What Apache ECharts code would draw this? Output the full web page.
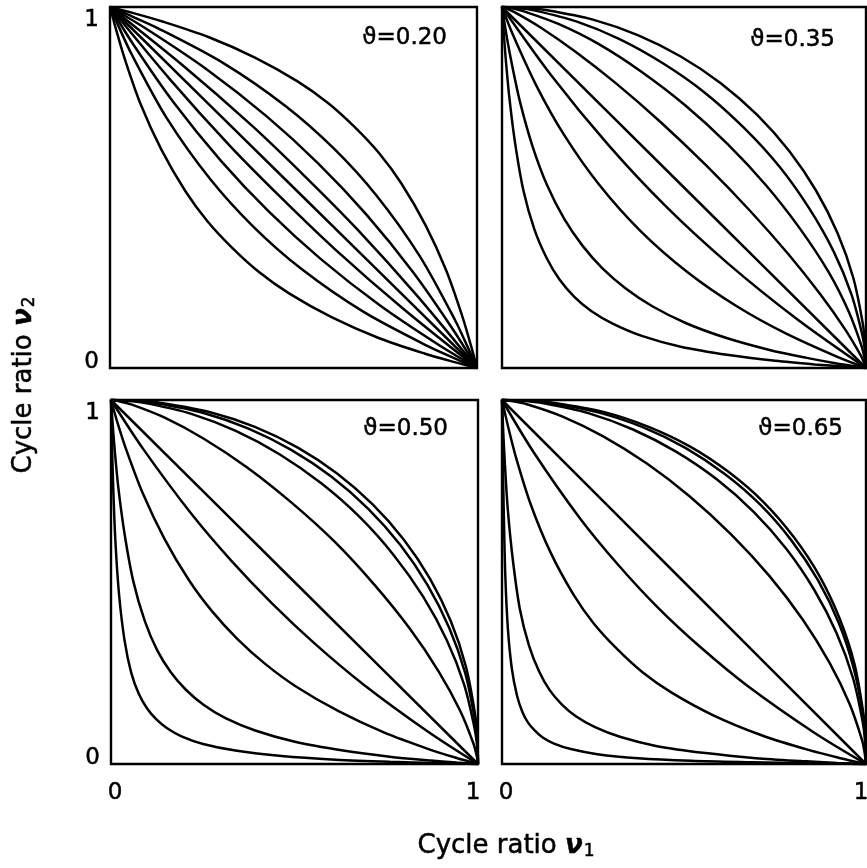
<!DOCTYPE html>
<html>
<head>
<meta charset="utf-8">
<script src="https://cdn.jsdelivr.net/npm/echarts@6/dist/echarts.min.js"></script>
<style>
html,body{margin:0;padding:0;background:#fff;}
#c{width:867px;height:868px;}
</style>
</head>
<body>
<div id="c"></div>
<script>
var panelLabels = ['ϑ=0.20', 'ϑ=0.35', 'ϑ=0.50', 'ϑ=0.65'];
var tickValues = [0, 1];
var xTitle = 'Cycle ratio ';
var yTitle = 'Cycle ratio ';

// each curve: [nu1, nu2] points
var curves020 = [
  [[0,1],[0.017,0.936],[0.040,0.857],[0.083,0.732],[0.140,0.605],[0.206,0.489],[0.266,0.406],[0.333,0.333],[0.406,0.266],[0.489,0.206],[0.605,0.140],[0.732,0.083],[0.857,0.040],[0.936,0.017],[1,0]],
  [[0,1],[0.020,0.954],[0.059,0.869],[0.156,0.690],[0.274,0.522],[0.391,0.391],[0.522,0.274],[0.690,0.156],[0.869,0.059],[0.954,0.020],[1,0]],
  [[0,1],[0.065,0.894],[0.173,0.736],[0.303,0.573],[0.433,0.433],[0.573,0.303],[0.736,0.173],[0.894,0.065],[1,0]],
  [[0,1],[0.164,0.799],[0.328,0.614],[0.469,0.469],[0.614,0.328],[0.799,0.164],[1,0]],
  [[0,1],[0.5,0.5],[1,0]],
  [[0,1],[0.201,0.836],[0.386,0.672],[0.531,0.531],[0.672,0.386],[0.836,0.201],[1,0]],
  [[0,1],[0.106,0.935],[0.264,0.827],[0.427,0.697],[0.567,0.567],[0.697,0.427],[0.827,0.264],[0.935,0.106],[1,0]],
  [[0,1],[0.046,0.980],[0.131,0.941],[0.310,0.844],[0.478,0.726],[0.609,0.609],[0.726,0.478],[0.844,0.310],[0.941,0.131],[0.980,0.046],[1,0]],
  [[0,1],[0.064,0.983],[0.143,0.960],[0.268,0.917],[0.395,0.860],[0.511,0.794],[0.594,0.734],[0.667,0.667],[0.734,0.594],[0.794,0.511],[0.860,0.395],[0.917,0.268],[0.960,0.143],[0.983,0.064],[1,0]]
];
var curves035 = [
  [[0,1],[0.004,0.939],[0.010,0.859],[0.020,0.751],[0.036,0.623],[0.059,0.491],[0.089,0.384],[0.123,0.304],[0.158,0.245],[0.198,0.198],[0.245,0.158],[0.304,0.123],[0.384,0.089],[0.491,0.059],[0.623,0.036],[0.751,0.020],[0.859,0.010],[0.939,0.004],[1,0]],
  [[0,1],[0.014,0.912],[0.028,0.837],[0.050,0.735],[0.083,0.617],[0.124,0.506],[0.171,0.413],[0.221,0.339],[0.276,0.276],[0.339,0.221],[0.413,0.171],[0.506,0.124],[0.617,0.083],[0.735,0.050],[0.837,0.028],[0.912,0.014],[1,0]],
  [[0,1],[0.030,0.923],[0.095,0.781],[0.171,0.645],[0.266,0.509],[0.380,0.380],[0.509,0.266],[0.645,0.171],[0.781,0.095],[0.923,0.030],[1,0]],
  [[0,1],[0.135,0.811],[0.292,0.618],[0.449,0.449],[0.618,0.292],[0.811,0.135],[1,0]],
  [[0,1],[0.5,0.5],[1,0]],
  [[0,1],[0.011,0.996],[0.034,0.986],[0.105,0.944],[0.202,0.876],[0.315,0.787],[0.437,0.680],[0.561,0.561],[0.680,0.437],[0.787,0.315],[0.876,0.202],[0.944,0.105],[0.986,0.034],[0.996,0.011],[1,0]],
  [[0,1],[0.023,0.997],[0.060,0.988],[0.155,0.953],[0.266,0.897],[0.384,0.820],[0.504,0.727],[0.620,0.620],[0.727,0.504],[0.820,0.384],[0.897,0.266],[0.953,0.155],[0.988,0.060],[0.997,0.023],[1,0]],
  [[0,1],[0.040,0.998],[0.091,0.990],[0.204,0.960],[0.323,0.911],[0.442,0.844],[0.558,0.762],[0.665,0.665],[0.762,0.558],[0.844,0.442],[0.911,0.323],[0.960,0.204],[0.990,0.091],[0.998,0.040],[1,0]],
  [[0,1],[0.061,0.998],[0.124,0.991],[0.250,0.965],[0.373,0.922],[0.491,0.863],[0.601,0.789],[0.701,0.701],[0.789,0.601],[0.863,0.491],[0.922,0.373],[0.965,0.250],[0.991,0.124],[0.998,0.061],[1,0]]
];
var curves050 = [
  [[0,1],[0.0025,0.888],[0.006,0.760],[0.012,0.612],[0.022,0.465],[0.037,0.339],[0.055,0.251],[0.076,0.192],[0.098,0.153],[0.123,0.123],[0.153,0.098],[0.192,0.076],[0.251,0.055],[0.339,0.037],[0.465,0.022],[0.612,0.012],[0.760,0.006],[0.888,0.0025],[1,0]],
  [[0,1],[0.004,0.941],[0.010,0.864],[0.020,0.759],[0.037,0.632],[0.061,0.501],[0.092,0.393],[0.126,0.312],[0.163,0.252],[0.204,0.204],[0.252,0.163],[0.312,0.126],[0.393,0.092],[0.501,0.061],[0.632,0.037],[0.759,0.020],[0.864,0.010],[0.941,0.004],[1,0]],
  [[0,1],[0.017,0.940],[0.041,0.865],[0.086,0.745],[0.145,0.620],[0.213,0.504],[0.275,0.420],[0.344,0.344],[0.420,0.275],[0.504,0.213],[0.620,0.145],[0.745,0.086],[0.865,0.041],[0.940,0.017],[1,0]],
  [[0,1],[0.088,0.865],[0.220,0.686],[0.330,0.556],[0.440,0.440],[0.556,0.330],[0.686,0.220],[0.865,0.088],[1,0]],
  [[0,1],[0.5,0.5],[1,0]],
  [[0,1],[0.020,0.997],[0.055,0.988],[0.145,0.952],[0.254,0.893],[0.372,0.814],[0.492,0.718],[0.610,0.610],[0.718,0.492],[0.814,0.372],[0.893,0.254],[0.952,0.145],[0.988,0.055],[0.997,0.020],[1,0]],
  [[0,1],[0.047,0.998],[0.102,0.990],[0.219,0.962],[0.340,0.915],[0.459,0.851],[0.573,0.771],[0.678,0.678],[0.771,0.573],[0.851,0.459],[0.915,0.340],[0.962,0.219],[0.990,0.102],[0.998,0.047],[1,0]],
  [[0,1],[0.061,0.998],[0.124,0.991],[0.250,0.965],[0.373,0.922],[0.491,0.863],[0.601,0.789],[0.701,0.701],[0.789,0.601],[0.863,0.491],[0.922,0.373],[0.965,0.250],[0.991,0.124],[0.998,0.061],[1,0]],
  [[0,1],[0.070,0.998],[0.137,0.992],[0.268,0.967],[0.392,0.926],[0.509,0.869],[0.616,0.798],[0.713,0.713],[0.798,0.616],[0.869,0.509],[0.926,0.392],[0.967,0.268],[0.992,0.137],[0.998,0.070],[1,0]]
];
var curves065 = [
  [[0,1],[0.0005,0.957],[0.002,0.845],[0.005,0.685],[0.009,0.520],[0.016,0.374],[0.027,0.262],[0.041,0.189],[0.056,0.143],[0.072,0.113],[0.091,0.091],[0.113,0.072],[0.143,0.056],[0.189,0.041],[0.262,0.027],[0.374,0.016],[0.520,0.009],[0.685,0.005],[0.845,0.002],[0.957,0.0005],[1,0]],
  [[0,1],[0.003,0.921],[0.008,0.823],[0.016,0.698],[0.030,0.559],[0.049,0.426],[0.074,0.326],[0.102,0.254],[0.131,0.203],[0.164,0.164],[0.203,0.131],[0.254,0.102],[0.326,0.074],[0.426,0.049],[0.559,0.030],[0.698,0.016],[0.823,0.008],[0.921,0.003],[1,0]],
  [[0,1],[0.016,0.930],[0.038,0.844],[0.079,0.713],[0.133,0.582],[0.196,0.466],[0.252,0.386],[0.316,0.316],[0.386,0.252],[0.466,0.196],[0.582,0.133],[0.713,0.079],[0.844,0.038],[0.930,0.016],[1,0]],
  [[0,1],[0.086,0.858],[0.215,0.674],[0.322,0.544],[0.429,0.429],[0.544,0.322],[0.674,0.215],[0.858,0.086],[1,0]],
  [[0,1],[0.5,0.5],[1,0]],
  [[0,1],[0.026,0.997],[0.066,0.989],[0.165,0.955],[0.278,0.900],[0.397,0.826],[0.516,0.735],[0.630,0.630],[0.735,0.516],[0.826,0.397],[0.900,0.278],[0.955,0.165],[0.989,0.066],[0.997,0.026],[1,0]],
  [[0,1],[0.055,0.998],[0.115,0.991],[0.237,0.964],[0.360,0.919],[0.478,0.858],[0.590,0.782],[0.692,0.692],[0.782,0.590],[0.858,0.478],[0.919,0.360],[0.964,0.237],[0.991,0.115],[0.998,0.055],[1,0]],
  [[0,1],[0.068,0.998],[0.135,0.992],[0.264,0.966],[0.388,0.925],[0.505,0.868],[0.613,0.796],[0.711,0.711],[0.796,0.613],[0.868,0.505],[0.925,0.388],[0.966,0.264],[0.992,0.135],[0.998,0.068],[1,0]],
  [[0,1],[0.075,0.998],[0.144,0.992],[0.276,0.968],[0.401,0.927],[0.517,0.872],[0.623,0.802],[0.719,0.719],[0.802,0.623],[0.872,0.517],[0.927,0.401],[0.968,0.276],[0.992,0.144],[0.998,0.075],[1,0]]
];

var panels = [curves020, curves035, curves050, curves065];
var grids = [
  {left:110, top:7, width:367, height:361},
  {left:502, top:7, width:364, height:361},
  {left:111, top:400, width:367, height:364},
  {left:502, top:400, width:364, height:364}
];
var FONT = 'DejaVu Sans';
var FS = 23;
var chart = echarts.init(document.getElementById('c'), null, {renderer:'canvas'});
function txt(extra){ return Object.assign({fontFamily:FONT, fontSize:FS, color:'#000', textBorderColor:'#000', textBorderWidth:0.5}, extra||{}); }
var option = {
  backgroundColor:'#fff',
  animation:false,
  grid: grids.map(function(g){return Object.assign({show:true, borderColor:'#000', borderWidth:2.4, backgroundColor:'transparent', containLabel:false, outerBoundsMode:'none'}, g);}),
  xAxis: grids.map(function(g,i){
    return {gridIndex:i, type:'value', min:tickValues[0], max:tickValues[1], interval:1,
      axisLine:{show:false}, axisTick:{show:false}, splitLine:{show:false},
      axisLabel:txt({show:i>=2, margin:18,
        formatter:function(v){return v===0?'{l|0}':'{r|1}';},
        rich:{l:txt({padding:[0,0,0,8]}), r:txt({padding:[0,10,0,0]})}
      })};
  }),
  yAxis: grids.map(function(g,i){
    return {gridIndex:i, type:'value', min:tickValues[0], max:tickValues[1], interval:1,
      axisLine:{show:false}, axisTick:{show:false}, splitLine:{show:false},
      axisLabel:txt({show:i%2===0, margin:11,
        formatter:function(v){return v===0?'{b|0}':'{t|1}';},
        rich:{t:txt({padding:[26,0,0,0]}), b:txt({padding:[0,0,12,0]})}
      })};
  }),
  series: [],
  graphic: []
};
panels.forEach(function(cs, i){
  cs.forEach(function(c){
    option.series.push({type:'line', xAxisIndex:i, yAxisIndex:i, data:c, showSymbol:false,
      smooth:0.3, lineStyle:{color:'#000', width:2.5}, clip:false, silent:true});
  });
});
var labelPos = [[447,38],[835,40],[448,429],[843,429]];
panelLabels.forEach(function(t,i){
  option.graphic.push({type:'text', x:labelPos[i][0], y:labelPos[i][1],
    style:{text:t, fill:'#000', fontFamily:FONT, fontSize:FS, align:'right', verticalAlign:'middle', stroke:'#000', lineWidth:0.5}});
});
function titleStyle(t, sub){
  return {text:t+'{nu|ν}{s|'+sub+'}', fill:'#000', fontFamily:FONT, fontSize:26, align:'center', verticalAlign:'middle', stroke:'#000', lineWidth:0.5,
    rich:{nu:{fontFamily:FONT, fontSize:26, fontStyle:'italic', fontWeight:'bold', fill:'#000'},
          s:{fontFamily:FONT, fontSize:17, fill:'#000', verticalAlign:'bottom', padding:[12,0,0,1]}}};
}
option.graphic.push({type:'text', x:506, y:846, style:titleStyle(xTitle,'1')});
option.graphic.push({type:'text', x:24, y:385, rotation:Math.PI/2, style:titleStyle(yTitle,'2')});
chart.setOption(option);
</script>
</body>
</html>
